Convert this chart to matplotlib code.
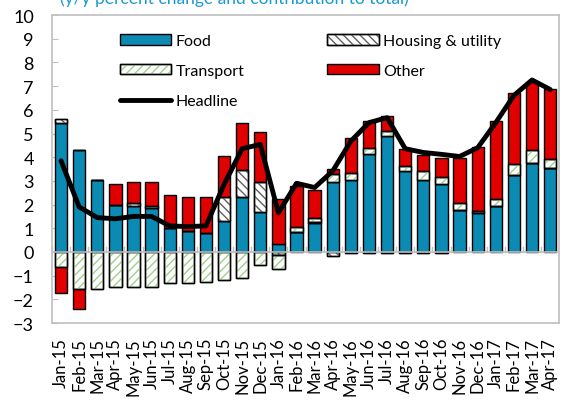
import numpy as np
import matplotlib.pyplot as plt
from matplotlib.patches import Patch
from matplotlib.lines import Line2D

plt.rcParams['font.family'] = ['Lato', 'DejaVu Sans']
plt.rcParams['hatch.linewidth'] = 1.0

months = ['Jan-15', 'Feb-15', 'Mar-15', 'Apr-15', 'May-15', 'Jun-15', 'Jul-15',
          'Aug-15', 'Sep-15', 'Oct-15', 'Nov-15', 'Dec-15', 'Jan-16', 'Feb-16',
          'Mar-16', 'Apr-16', 'May-16', 'Jun-16', 'Jul-16', 'Aug-16', 'Sep-16',
          'Oct-16', 'Nov-16', 'Dec-16', 'Jan-17', 'Feb-17', 'Mar-17', 'Apr-17']

food = [5.45, 4.30, 3.05, 2.00, 1.95, 1.85, 1.03, 0.90, 0.82, 1.30, 2.33, 1.70, 0.35, 0.85,
        1.22, 2.95, 3.03, 4.12, 4.90, 3.42, 3.03, 2.86, 1.77, 1.66, 1.94, 3.24, 3.77, 3.56]
housing = [0.15, 0.00, 0.00, 0.00, 0.12, 0.10, 0.00, 0.00, 0.00, 1.00, 1.15, 1.25, -0.14, 0.00,
           0.06, -0.15, -0.05, -0.05, -0.05, -0.05, -0.05, -0.05, 0.00, 0.05, 0.00, 0.00, 0.00, 0.00]
transport = [-0.65, -1.55, -1.55, -1.50, -1.50, -1.50, -1.33, -1.32, -1.25, -1.18, -1.10, -0.55, -0.56, 0.20,
             0.17, 0.32, 0.29, 0.28, 0.20, 0.21, 0.37, 0.31, 0.28, 0.00, 0.28, 0.46, 0.53, 0.38]
other = [-1.10, -0.85, 0.00, 0.87, 0.90, 1.02, 1.37, 1.42, 1.50, 1.75, 1.98, 2.12, 1.90, 1.75,
         1.17, 0.22, 1.51, 1.13, 0.64, 0.73, 0.70, 0.81, 1.93, 2.74, 3.31, 3.00, 2.87, 2.92]
headline = [3.85, 1.90, 1.45, 1.40, 1.50, 1.50, 1.10, 1.07, 1.10, 2.85, 4.36, 4.54, 1.65, 2.90,
            2.72, 3.42, 4.68, 5.46, 5.67, 4.36, 4.20, 4.12, 4.03, 4.40, 5.46, 6.61, 7.26, 6.86]

series = [
    ('Food', food, '#0B8BB3', None),
    ('Housing & utility', housing, 'white', '\\\\\\\\'),
    ('Transport', transport, 'white', '////'),
    ('Other', other, '#E00000', None),
]
hatch_colors = {'Housing & utility': '#606060', 'Transport': '#9FD08A'}

fig = plt.figure(figsize=(5.68, 4.02), dpi=100)
ax = fig.add_axes([0.0915, 0.194, 0.893, 0.766])

x = np.arange(len(months))
pos_base = np.zeros(len(months))
neg_base = np.zeros(len(months))
handles = {}
for name, vals, fc, hatch in series:
    v = np.array(vals)
    base = np.where(v >= 0, pos_base, neg_base)
    ax.bar(x, v, 0.68, bottom=base, facecolor=fc, edgecolor='black', linewidth=1.0, zorder=3)
    outline = Patch(facecolor=fc, edgecolor='black', linewidth=1.0)
    if hatch:
        # hatch in its own colour, black outline on top
        hc = hatch_colors[name]
        ax.bar(x, v, 0.68, bottom=base, facecolor='none', edgecolor=hc,
               hatch=hatch, linewidth=0, zorder=3.5)
        ax.bar(x, v, 0.68, bottom=base, facecolor='none', edgecolor='black',
               linewidth=1.0, zorder=3.6)
        hp = Patch(facecolor='none', edgecolor=hc, hatch=hatch, linewidth=0)
        op = Patch(facecolor='none', edgecolor='black', linewidth=1.0)
        handles[name] = (outline, hp, op)
    else:
        handles[name] = outline
    pos_base += np.where(v >= 0, v, 0)
    neg_base += np.where(v < 0, v, 0)

ax.plot(x, headline, color='black', linewidth=3.5, zorder=5,
        solid_joinstyle='round', solid_capstyle='round')

# zero line with category tick marks
ax.axhline(0, color='#BFBFBF', linewidth=1.2, zorder=4)
for xb in np.arange(len(months) + 1) - 0.5:
    ax.plot([xb, xb], [0, 0.2], color='#BFBFBF', linewidth=1.0, zorder=2)

ax.set_xlim(-0.5, len(months) - 0.5)
ax.set_ylim(-3, 10)
ax.set_yticks(np.arange(-3, 11))
ax.set_xticks(x)
ax.set_xticklabels(months, rotation=90, fontsize=12)
ax.tick_params(axis='x', length=0, pad=10)
ax.tick_params(axis='y', direction='in', length=4, color='#BFBFBF', labelsize=13, pad=13)
for s in ax.spines.values():
    s.set_color('#BFBFBF')
    s.set_linewidth(1.2)

leg_handles = [handles['Food'], handles['Transport'],
               Line2D([0], [0], color='black', linewidth=3.5, solid_capstyle='round'),
               handles['Housing & utility'], handles['Other']]
leg_labels = ['Food', 'Transport', 'Headline', 'Housing & utility', 'Other']
ax.legend(leg_handles, leg_labels, ncol=2, loc='upper left', bbox_to_anchor=(0.105, 0.985),
          frameon=False, fontsize=11.5, handlelength=3.2, handleheight=0.6,
          labelspacing=1.0, columnspacing=5.2, handletextpad=0.3)

fig.text(0.105, 1.003, '(y/y percent change and contribution to total)', color='#1B9AD2',
         fontsize=12.5, va='center', ha='left')

fig.savefig('out.png', dpi=100)
